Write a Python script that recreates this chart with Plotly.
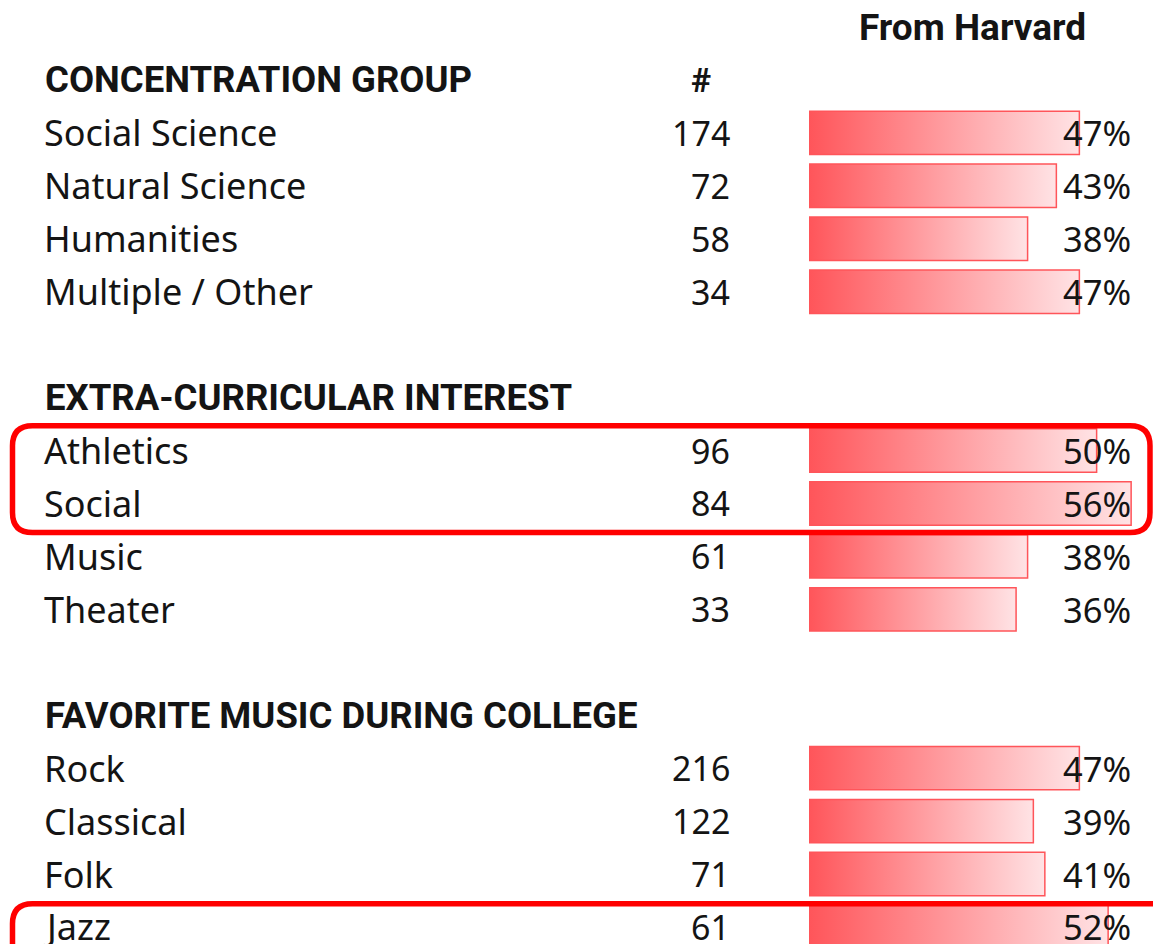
import plotly.graph_objects as go

# ---- data ----
groups = ["CONCENTRATION GROUP", "EXTRA-CURRICULAR INTEREST", "FAVORITE MUSIC DURING COLLEGE"]

concentration = ["Social Science", "Natural Science", "Humanities", "Multiple / Other"]
concentration_n = [174, 72, 58, 34]
concentration_pct = [47, 43, 38, 47]

extracurricular = ["Athletics", "Social", "Music", "Theater"]
extracurricular_n = [96, 84, 61, 33]
extracurricular_pct = [50, 56, 38, 36]

music = ["Rock", "Classical", "Folk", "Jazz"]
music_n = [216, 122, 71, 61]
music_pct = [47, 39, 41, 52]

count_header = "#"
pct_header = "From Harvard"

# ---- styling ----
W, H = 1153, 944
BODY_FONT = "Noto Sans"
HEAD_FONT = "Roboto"
TEXT_COLOR = "#141414"
BAR_COLOR = "#FF555A"
BAR_FADE = "#FFE3E5"
BOX_RED = "#FF0000"

fig = go.Figure()
annotations = []

def px(x):
    return x / W

def add_text(text, x, row, anchor, size, family, bold=False):
    annotations.append(dict(
        text="<b>%s</b>" % text if bold else text,
        x=px(x), y=row, xref="paper", yref="y",
        xanchor=anchor, yanchor="middle", showarrow=False,
        font=dict(family=family, size=size, color=TEXT_COLOR)))

# header row
add_text(pct_header, 972, 0, "center", 37, HEAD_FONT, bold=True)

sections = [
    (groups[0], concentration, concentration_n, concentration_pct),
    (groups[1], extracurricular, extracurricular_n, extracurricular_pct),
    (groups[2], music, music_n, music_pct),
]

row = 1
for si, (title, labels, counts, pcts) in enumerate(sections):
    add_text(title, 43, row, "left", 36.5, HEAD_FONT, bold=True)
    if si == 0:
        add_text(count_header, 701, row, "center", 34, HEAD_FONT, bold=True)
    row += 1
    for lab, n, p in zip(labels, counts, pcts):
        add_text(lab, 42, row, "left", 36, BODY_FONT)
        add_text(str(n), 732, row, "right", 34, BODY_FONT)
        # gradient data bar
        h = 0.41
        fig.add_trace(go.Scatter(
            x=[0, p, p, 0, 0], y=[row - h, row - h, row + h, row + h, row - h],
            mode="lines", fill="toself",
            fillgradient=dict(type="horizontal",
                              colorscale=[[0, BAR_COLOR], [1, BAR_FADE]]),
            line=dict(color=BAR_COLOR, width=1.5),
            hoverinfo="skip", showlegend=False))
        add_text("%d%%" % p, 1133, row, "right", 34.5, BODY_FONT)
        row += 1
    row += 1

# highlight boxes (rounded corners), x in paper units, y in row units
def rounded_path(x0, x1, y0, y1, rx, ry):
    return ("M %f %f L %f %f Q %f %f %f %f L %f %f Q %f %f %f %f "
            "L %f %f Q %f %f %f %f L %f %f Q %f %f %f %f Z") % (
        x0 + rx, y0, x1 - rx, y0, x1, y0, x1, y0 + ry,
        x1, y1 - ry, x1, y1, x1 - rx, y1,
        x0 + rx, y1, x0, y1, x0, y1 - ry,
        x0, y0 + ry, x0, y0, x0 + rx, y0)

shapes = [
    dict(type="path", xref="paper", yref="y",
         path=rounded_path(px(12.5), px(1150), 7.53, 9.55, px(20), 0.38),
         line=dict(color=BOX_RED, width=5.5)),
    dict(type="path", xref="paper", yref="y",
         path=rounded_path(px(12.5), px(1250), 16.56, 18.6, px(20), 0.38),
         line=dict(color=BOX_RED, width=5.5)),
]

top_row = -27 / 52.94
bottom_row = (H - 27) / 52.94

fig.update_layout(
    width=W, height=H,
    margin=dict(l=0, r=0, t=0, b=0),
    paper_bgcolor="white", plot_bgcolor="white",
    showlegend=False,
    xaxis=dict(domain=[809 / W, 1], range=[0, 59.8], visible=False, fixedrange=True),
    yaxis=dict(range=[bottom_row, top_row], visible=False, fixedrange=True),
    annotations=annotations,
    shapes=shapes,
)

# page body has an 8px default margin; drop it so the figure sits at the corner
fig.write_html("out.html", config={"displayModeBar": False},
               post_script="document.body.style.margin='0px';document.body.style.overflow='hidden';")
